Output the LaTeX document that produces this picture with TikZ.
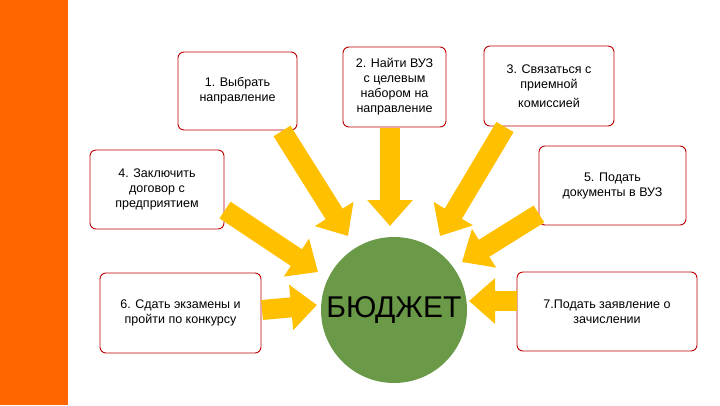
\documentclass[tikz,border=0pt]{standalone}
\usepackage{fontspec}
\setmainfont{Liberation Sans}
\usetikzlibrary{arrows.meta}
\definecolor{org}{HTML}{FF6600}
\definecolor{yel}{HTML}{FFC000}
\definecolor{grn}{HTML}{6A9A48}
\definecolor{rb}{HTML}{C00000}
\tikzset{
 box/.style={draw=rb,line width=0.9pt,fill=white,rounded corners=6pt,align=center,font=\fontsize{12.5}{15}\selectfont,inner sep=3pt},
 arr/.style={yel,line width=20pt,-{Triangle[width=44pt,length=26pt]}}
}
\begin{document}
\begin{tikzpicture}[x=1pt,y=-1pt]
\useasboundingbox (0,0) rectangle (720,405);
\fill[white] (0,0) rectangle (720,405);
\fill[org] (0,0) rectangle (68,405);
\node[box,minimum width=119pt,minimum height=78pt] (b1) at (237.5,91) {1. Выбрать\\направление};
\node[box,minimum width=103pt,minimum height=80pt] (b2) at (394.5,87) {2. Найти ВУЗ\\с целевым\\набором на\\направление};
\node[box,minimum width=130pt,minimum height=80pt] (b3) at (549,86) {3. Связаться с\\приемной\\[4pt]комиссией};
\node[box,minimum width=134pt,minimum height=79pt] (b4) at (157,189.5) {4. Заключить\\договор с\\предприятием};
\node[box,minimum width=147pt,minimum height=79pt] (b5) at (612.5,185.5) {5. Подать\\документы в ВУЗ};
\node[box,minimum width=161pt,minimum height=80pt] (b6) at (180.5,313) {6. Сдать экзамены и\\пройти по конкурсу};
\node[box,minimum width=180pt,minimum height=79pt] (b7) at (607,311.5) {7.Подать заявление о\\зачислении};
\node[circle,fill=grn,minimum size=146pt,inner sep=0pt,font=\fontsize{30}{34}\selectfont] (c) at (394,310) {БЮДЖЕТ};
\coordinate (s1) at (282,131); \coordinate (e1) at (348,236);
\coordinate (s2) at (390,128); \coordinate (e2) at (390,226);
\coordinate (s3) at (505,127); \coordinate (e3) at (440,236);
\coordinate (s4) at (225,210); \coordinate (e4) at (318,272);
\coordinate (s5) at (539,214); \coordinate (e5) at (462,262);
\coordinate (s6) at (262,310); \coordinate (e6) at (317,305);
\coordinate (s7) at (517,301); \coordinate (e7) at (469,301);
\foreach \i in {1,...,7}{\draw[arr] (s\i) -- (e\i);}
\end{tikzpicture}
\end{document}
